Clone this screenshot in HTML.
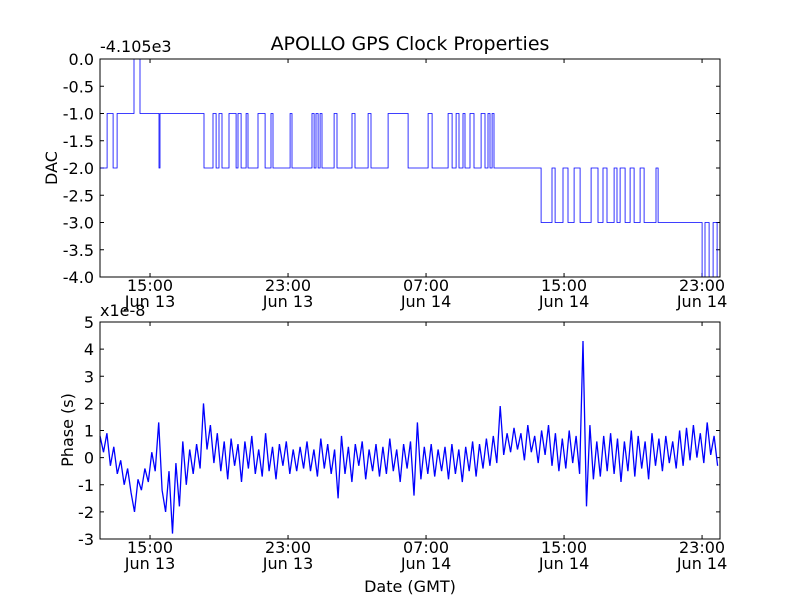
<!DOCTYPE html>
<html><head><meta charset="utf-8"><style>
body{margin:0;background:#fff}
svg{font-family:"DejaVu Sans","Liberation Sans",sans-serif}
</style></head><body>
<svg id="c" width="800" height="600" xmlns="http://www.w3.org/2000/svg">
<rect width="800" height="600" fill="#fff"/>
<text x="410" y="50" font-size="19" text-anchor="middle">APOLLO GPS Clock Properties</text>
</svg>
<script>
// x tick data (hours since Jun 13 00:00)
const xTickHours = [15, 23, 31, 39, 47];
const xTickTimes = ["15:00", "23:00", "07:00", "15:00", "23:00"];
const xTickDates = ["Jun 13", "Jun 13", "Jun 14", "Jun 14", "Jun 14"];
const xDomain = [12.1, 48.04];
// DAC step series (offset -4105)
const dacTimes = [12.10,12.51,12.86,13.09,14.07,14.42,15.52,15.58,18.13,18.65,18.83,19.00,19.17,19.58,19.99,20.10,20.28,20.57,20.68,21.26,21.67,22.01,22.13,23.12,23.23,24.39,24.51,24.62,24.74,24.86,24.97,25.67,25.84,26.71,26.88,27.64,27.81,28.80,29.96,31.12,31.35,32.28,32.51,32.74,32.91,33.14,33.26,33.55,33.78,34.19,34.42,34.59,34.71,34.83,34.94,37.67,38.30,38.48,38.94,39.23,39.58,39.93,40.57,40.97,41.26,41.49,41.90,42.07,42.25,42.54,42.83,43.06,43.41,43.64,44.33,44.45,47.00,47.17,47.41,47.64,47.87];
const dacValues = [-2,-1,-2,-1,0,-1,-2,-1,-2,-1,-2,-1,-2,-1,-2,-1,-2,-1,-2,-1,-2,-1,-2,-1,-2,-1,-2,-1,-2,-1,-2,-1,-2,-1,-2,-1,-2,-1,-2,-1,-2,-1,-2,-1,-2,-1,-2,-1,-2,-1,-2,-1,-2,-1,-2,-3,-2,-3,-2,-3,-2,-3,-2,-3,-2,-3,-2,-3,-2,-3,-2,-3,-2,-3,-2,-3,-4,-3,-4,-3,-4];
const dacTicks = [0,-0.5,-1,-1.5,-2,-2.5,-3,-3.5,-4];
// Phase series (x1e-8 s), sampled every 0.2 h from 12.1 h
const phaseStart = 12.1, phaseStep = 0.2;
const phaseValues = [
0.8,0.2,0.9,-0.3,0.4,-0.6,-0.1,-1.0,-0.4,-1.3,
-2.0,-0.8,-1.2,-0.4,-0.9,0.2,-0.5,1.3,-1.2,-2.0,
-0.5,-2.8,-0.2,-1.8,0.6,-1.0,0.3,-0.6,0.5,-0.4,
2.0,0.3,1.2,-0.2,0.9,-0.5,0.6,-0.8,0.7,-0.3,
0.5,-0.9,0.6,-0.4,0.8,-0.6,0.3,-0.7,0.9,-0.5,
0.4,-0.8,0.5,-0.3,0.6,-0.6,0.3,-0.5,0.4,-0.4,
0.6,-0.5,0.3,-0.7,0.7,-0.4,0.5,-0.6,0.3,-1.5,
0.8,-0.6,0.4,-0.9,0.5,-0.3,0.6,-0.8,0.3,-0.5,
0.5,-0.7,0.4,-0.6,0.7,-0.5,0.3,-0.9,0.5,-0.4,
0.6,-1.4,1.3,-0.8,0.4,-0.6,0.5,-0.7,0.3,-0.5,
0.4,-0.8,0.5,-0.6,0.3,-0.9,0.4,-0.5,0.6,-0.7,
0.5,-0.4,0.7,-0.3,0.8,-0.2,1.9,0.1,0.9,0.2,
1.1,0.3,0.9,-0.1,1.2,0.2,0.8,-0.2,1.0,0.1,
1.2,-0.3,0.9,-0.5,0.7,-0.4,1.0,-0.2,0.8,-0.6,
4.3,-1.8,1.2,-0.8,0.6,-0.7,0.8,-0.5,0.9,-0.6,
0.7,-0.9,0.6,-0.5,1.0,-0.7,0.8,-0.4,0.6,-0.8,
0.9,-0.3,0.7,-0.5,0.8,-0.2,0.6,-0.4,1.0,-0.3,
1.1,-0.1,1.2,0.0,0.9,-0.2,1.3,0.1,0.8,-0.3];
const phaseTicks = [5,4,3,2,1,0,-1,-2,-3];

const NS="http://www.w3.org/2000/svg";
const svg=document.getElementById('c');
function mk(t,a,txt){const e=document.createElementNS(NS,t);for(const k in a)e.setAttribute(k,a[k]);if(txt!==undefined)e.textContent=txt;svg.appendChild(e);return e;}
const L=100,R=720;
const xs=h=>L+(h-xDomain[0])/(xDomain[1]-xDomain[0])*(R-L);

function axes(top,bot,ymin,ymax,yticks,fmt,name){
  const ys=v=>bot-(v-ymin)/(ymax-ymin)*(bot-top);
  yticks.forEach(v=>{
    const y=ys(v);
    const t=mk('text',{x:L-6,y:y+6,'font-size':16,'text-anchor':'end'},fmt(v));
    
    
    mk('line',{x1:L,x2:L+4,y1:y,y2:y,stroke:'#000'});
    mk('line',{x1:R,x2:R-4,y1:y,y2:y,stroke:'#000'});
  });
  xTickHours.forEach((h,i)=>{
    const x=xs(h);
    mk('line',{x1:x,x2:x,y1:bot,y2:bot-4,stroke:'#000'});
    mk('line',{x1:x,x2:x,y1:top,y2:top+4,stroke:'#000'});
    const t1=mk('text',{x:x,y:bot+14,'font-size':16,'text-anchor':'middle'},xTickTimes[i]);
    
    
    const t2=mk('text',{x:x,y:bot+30,'font-size':16,'text-anchor':'middle'},xTickDates[i]);
    
    
  });
  return ys;
}
// top panel
const T1=59,B1=277;
const ys1=axes(T1,B1,-4,0,dacTicks,v=>v.toFixed(1),'dac');
let d='';
dacTimes.forEach((h,i)=>{
  const x=xs(h),y=ys1(dacValues[i]);
  d+=(i?'H'+x.toFixed(1)+'V':'M'+x.toFixed(1)+' ')+y.toFixed(1);
});
d+='H'+R;
const p1=mk('path',{d:d,fill:'none',stroke:'#0000ff','stroke-width':0.8});


const f1=mk('rect',{x:L,y:T1,width:R-L,height:B1-T1,fill:'none',stroke:'#000'});


const o1=mk('text',{x:L,y:T1-7,'font-size':16},'-4.105e3');


const yl1=mk('text',{x:0,y:0,'font-size':16,'text-anchor':'middle',transform:'translate(57,168) rotate(-90)'},'DAC');



// bottom panel
const T2=322,B2=539;
const ys2=axes(T2,B2,-3,5,phaseTicks,v=>String(v),'phase');
let d2='';
phaseValues.forEach((v,i)=>{
  const x=xs(phaseStart+i*phaseStep),y=ys2(v);
  d2+=(i?'L':'M')+x.toFixed(1)+' '+y.toFixed(1);
});
const p2=mk('path',{d:d2,fill:'none',stroke:'#0000ff','stroke-width':1.3});


const f2=mk('rect',{x:L,y:T2,width:R-L,height:B2-T2,fill:'none',stroke:'#000'});


const o2=mk('text',{x:L,y:T2-6,'font-size':16},'x1e-8');


const yl2=mk('text',{x:0,y:0,'font-size':16,'text-anchor':'middle',transform:'translate(73,430) rotate(-90)'},'Phase (s)');


const xl=mk('text',{x:410,y:592,'font-size':16,'text-anchor':'middle'},'Date (GMT)');


</script>
</body></html>
